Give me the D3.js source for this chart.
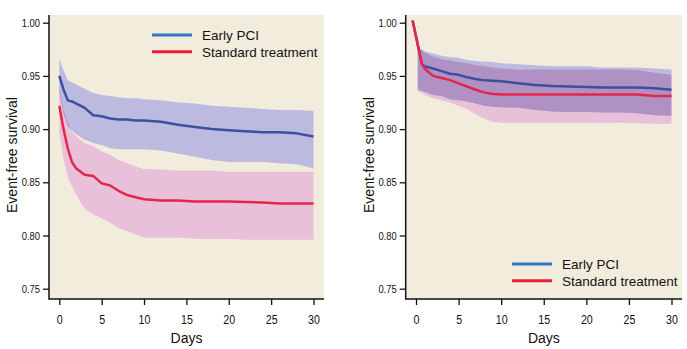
<!DOCTYPE html>
<html>
<head>
<meta charset="utf-8">
<script src="https://cdn.jsdelivr.net/npm/d3@7"></script>
<style>
  body { margin: 0; background: #fff; }
  svg { display: block; }
  .tick text { font-family: "Liberation Sans", Arial, sans-serif; fill: #111; }
  .title, .legend text { font-family: "Liberation Sans", Arial, sans-serif; fill: #111; }
</style>
</head>
<body>
<svg id="chart" width="687" height="349"></svg>
<script>
// ---- data ----
const seriesNames = ['Early PCI', 'Standard treatment'];
const dayTicks = [0, 5, 10, 15, 20, 25, 30];
const survivalTicks = [0.75, 0.80, 0.85, 0.90, 0.95, 1.00];

// left panel
const leftDays = [0, 0.5, 1, 1.5, 2, 3, 4, 5, 6, 7, 8, 9, 10, 12, 14, 16, 18, 20, 22, 24, 26, 28, 30];
const leftPci = [0.950, 0.937, 0.927, 0.926, 0.924, 0.920, 0.913, 0.912, 0.910, 0.909, 0.909, 0.908, 0.908, 0.907, 0.904, 0.902, 0.900, 0.899, 0.898, 0.897, 0.897, 0.896, 0.893];
const leftPciHi = [0.966, 0.955, 0.946, 0.944, 0.942, 0.938, 0.934, 0.932, 0.931, 0.930, 0.929, 0.929, 0.928, 0.927, 0.925, 0.924, 0.922, 0.921, 0.920, 0.919, 0.918, 0.918, 0.917];
const leftPciLo = [0.935, 0.915, 0.903, 0.899, 0.895, 0.890, 0.887, 0.885, 0.882, 0.881, 0.881, 0.881, 0.881, 0.880, 0.877, 0.874, 0.871, 0.869, 0.869, 0.869, 0.868, 0.867, 0.863];
const leftStd = [0.922, 0.900, 0.882, 0.869, 0.863, 0.857, 0.856, 0.849, 0.847, 0.842, 0.838, 0.836, 0.834, 0.833, 0.833, 0.832, 0.832, 0.832, 0.8315, 0.831, 0.830, 0.830, 0.830];
const leftStdHi = [0.940, 0.918, 0.906, 0.898, 0.893, 0.887, 0.884, 0.879, 0.876, 0.871, 0.868, 0.865, 0.8625, 0.862, 0.861, 0.861, 0.861, 0.860, 0.860, 0.860, 0.860, 0.860, 0.860];
const leftStdLo = [0.897, 0.872, 0.855, 0.846, 0.838, 0.825, 0.820, 0.816, 0.812, 0.807, 0.804, 0.801, 0.798, 0.798, 0.798, 0.797, 0.797, 0.797, 0.796, 0.796, 0.796, 0.796, 0.796];

// right panel
const rightDays = [-0.4, 0.7, 1, 2, 3, 4, 5, 6, 7, 8, 9, 10, 12, 14, 16, 18, 20, 22, 24, 26, 28, 30];
const rightPci = [1.002, 0.961, 0.959, 0.957, 0.9545, 0.952, 0.951, 0.9488, 0.947, 0.9458, 0.9455, 0.945, 0.943, 0.9415, 0.9405, 0.940, 0.9395, 0.939, 0.939, 0.939, 0.9385, 0.937];
const rightStd = [1.002, 0.961, 0.957, 0.950, 0.948, 0.946, 0.943, 0.940, 0.937, 0.9345, 0.933, 0.9325, 0.9325, 0.9325, 0.9325, 0.9325, 0.9325, 0.9325, 0.9325, 0.9325, 0.931, 0.931];
const rightBandDays = [0.2, 0.7, 1, 2, 3, 4, 5, 6, 7, 8, 9, 10, 12, 14, 16, 18, 20, 22, 24, 26, 28, 30];
const rightPciHi = [0.977, 0.975, 0.973, 0.971, 0.969, 0.9675, 0.967, 0.965, 0.964, 0.9635, 0.963, 0.962, 0.961, 0.960, 0.959, 0.959, 0.959, 0.958, 0.958, 0.958, 0.957, 0.956];
const rightPciLo = [0.937, 0.936, 0.935, 0.932, 0.931, 0.928, 0.927, 0.926, 0.924, 0.922, 0.921, 0.9205, 0.920, 0.918, 0.9165, 0.916, 0.916, 0.9155, 0.9155, 0.915, 0.913, 0.9125];
const rightStdHi = [0.975, 0.974, 0.972, 0.968, 0.966, 0.9645, 0.963, 0.962, 0.960, 0.959, 0.958, 0.957, 0.956, 0.956, 0.956, 0.956, 0.956, 0.956, 0.956, 0.9555, 0.953, 0.951];
const rightStdLo = [0.935, 0.934, 0.932, 0.929, 0.927, 0.925, 0.922, 0.919, 0.914, 0.910, 0.907, 0.906, 0.906, 0.906, 0.906, 0.906, 0.906, 0.906, 0.906, 0.9055, 0.905, 0.905];

const COLORS = {
  bg: '#f1ecdb',
  pciLine: '#3d4f9f',
  stdLine: '#e5264c',
  pciBand: '#bcbbdf',
  stdBand: '#e9c0da',
  overlap: '#b091c4',
  pciKey: '#2f77bf',
  stdKey: '#ea1e38'
};

const svg = d3.select('#chart');
const defs = svg.append('defs');
const plotTop = 15, plotBottom = 299;
const narrow = 0.82; // horizontal squeeze for the condensed tick font

const panels = [
  {
    id: 'left', x0: 49, x1: 324,
    days: leftDays, pci: leftPci, std: leftStd,
    bandDays: leftDays, pciHi: leftPciHi, pciLo: leftPciLo, stdHi: leftStdHi, stdLo: leftStdLo,
    legend: { x: 152, y: 35 }
  },
  {
    id: 'right', x0: 405.7, x1: 682,
    days: rightDays, pci: rightPci, std: rightStd,
    bandDays: rightBandDays, pciHi: rightPciHi, pciLo: rightPciLo, stdHi: rightStdHi, stdLo: rightStdLo,
    legend: { x: 512, y: 264 }
  }
];

function drawPanel(p) {
  const g = svg.append('g');

  const x = d3.scaleLinear().domain([0, 30]).range([p.x0 + 10.3, p.x1 - 10.5]);
  const y = d3.scaleLinear().domain([0.75, 1.0]).range([288.7, 22.7]);

  // plot background
  g.append('rect')
    .attr('x', p.x0).attr('y', plotTop)
    .attr('width', p.x1 - p.x0).attr('height', plotBottom - plotTop)
    .attr('fill', COLORS.bg);

  // confidence bands
  const band = (hi, lo) => d3.area()
    .x((d, i) => x(p.bandDays[i]))
    .y0((d, i) => y(lo[i]))
    .y1((d, i) => y(hi[i]))(hi);

  const pciBandPath = band(p.pciHi, p.pciLo);
  const stdBandPath = band(p.stdHi, p.stdLo);

  g.append('path').attr('d', stdBandPath).attr('fill', COLORS.stdBand);
  g.append('path').attr('d', pciBandPath).attr('fill', COLORS.pciBand);

  // where the two bands overlap they turn purple
  defs.append('clipPath').attr('id', `clip-${p.id}`)
    .append('path').attr('d', pciBandPath);
  g.append('path')
    .attr('d', stdBandPath)
    .attr('fill', COLORS.overlap)
    .attr('clip-path', `url(#clip-${p.id})`);

  // survival curves
  const line = d3.line()
    .x((d, i) => x(p.days[i]))
    .y(d => y(d));

  g.append('path')
    .attr('d', line(p.pci))
    .attr('fill', 'none')
    .attr('stroke', COLORS.pciLine)
    .attr('stroke-width', 2.5)
    .attr('stroke-linejoin', 'round');

  g.append('path')
    .attr('d', line(p.std))
    .attr('fill', 'none')
    .attr('stroke', COLORS.stdLine)
    .attr('stroke-width', 2.5)
    .attr('stroke-linejoin', 'round');

  // axes
  const yAxis = g.append('g')
    .attr('transform', `translate(${p.x0},0)`)
    .call(d3.axisLeft(y).tickValues(survivalTicks).tickFormat(d3.format('.2f')).tickSize(6).tickPadding(3));
  yAxis.select('.domain').remove();
  yAxis.selectAll('.tick text')
    .attr('font-size', 11.5)
    .attr('x', -9 / narrow)
    .attr('transform', `scale(${narrow},1)`);
  yAxis.selectAll('.tick line').attr('stroke', '#111').attr('stroke-width', 1.3);

  const xAxis = g.append('g')
    .attr('transform', `translate(0,${plotBottom})`)
    .call(d3.axisBottom(x).tickValues(dayTicks).tickSize(6).tickPadding(10));
  xAxis.select('.domain').remove();
  xAxis.selectAll('.tick text')
    .attr('font-size', 13)
    .attr('transform', `scale(${narrow},1)`);
  xAxis.selectAll('.tick line').attr('stroke', '#111').attr('stroke-width', 1.3);

  g.append('path')
    .attr('d', `M${p.x0},${plotTop}V${plotBottom}H${p.x1}`)
    .attr('fill', 'none')
    .attr('stroke', '#111')
    .attr('stroke-width', 1.5);

  // titles
  g.append('text')
    .attr('class', 'title')
    .attr('x', (p.x0 + p.x1) / 2).attr('y', 343)
    .attr('text-anchor', 'middle')
    .attr('font-size', 14)
    .text('Days');

  g.append('text')
    .attr('class', 'title')
    .attr('transform', `translate(${p.x0 - 32},155) rotate(-90)`)
    .attr('text-anchor', 'middle')
    .attr('font-size', 14)
    .text('Event-free survival');

  // legend
  const lg = g.append('g').attr('class', 'legend')
    .attr('transform', `translate(${p.legend.x},${p.legend.y})`);
  [COLORS.pciKey, COLORS.stdKey].forEach((c, i) => {
    const row = lg.append('g').attr('transform', `translate(0,${i * 16.8})`);
    row.append('line')
      .attr('x1', 0).attr('x2', 40)
      .attr('stroke', c).attr('stroke-width', 3);
    row.append('text')
      .attr('x', 50).attr('y', 5)
      .attr('font-size', 13.5)
      .text(seriesNames[i]);
  });
}

panels.forEach(drawPanel);
</script>
</body>
</html>
